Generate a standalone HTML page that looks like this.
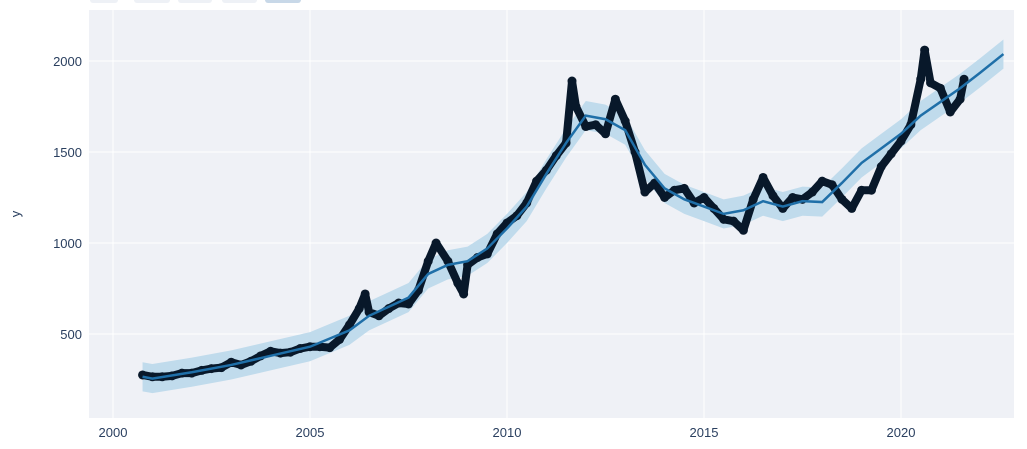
<!DOCTYPE html>
<html><head><meta charset="utf-8"><style>
body{margin:0;background:#fff;font-family:"Liberation Sans",sans-serif;}
svg text{font-family:"Liberation Sans",sans-serif;fill:#2a3f5f;font-size:13px;}
</style></head><body>
<svg id="chart" width="1027" height="444">
<g>
<rect x="90" y="-6" width="28" height="9" rx="3" fill="#eef1f6"/>
<rect x="134" y="-6" width="36" height="9" rx="3" fill="#eef1f6"/>
<rect x="178" y="-6" width="34" height="9" rx="3" fill="#eef1f6"/>
<rect x="222" y="-6" width="35" height="9" rx="3" fill="#eef1f6"/>
<rect x="265" y="-6" width="36" height="9" rx="3" fill="#c8d8e8"/>
</g>
<rect x="89" y="10" width="925" height="408" fill="#eff1f6"/>
<g id="grid"></g><g id="band"></g><g id="obs"></g><g id="trend"></g><g id="ticks"></g>
<text x="20" y="214" transform="rotate(-90 20 214)" text-anchor="middle" font-size="15">y</text>
</svg>
<script>
const obsYears=[2000.75,2001,2001.25,2001.5,2001.75,2002,2002.25,2002.5,2002.75,2003,2003.25,2003.5,2003.75,2004,2004.25,2004.5,2004.75,2005,2005.25,2005.5,2005.75,2006,2006.25,2006.4,2006.5,2006.75,2007,2007.25,2007.5,2007.75,2008,2008.2,2008.5,2008.75,2008.9,2009,2009.25,2009.5,2009.75,2010,2010.25,2010.5,2010.75,2011,2011.25,2011.5,2011.65,2011.75,2012,2012.25,2012.5,2012.75,2013,2013.25,2013.5,2013.75,2014,2014.25,2014.5,2014.75,2015,2015.25,2015.5,2015.75,2016,2016.25,2016.5,2016.75,2017,2017.25,2017.5,2017.75,2018,2018.25,2018.5,2018.75,2019,2019.25,2019.5,2019.75,2020,2020.25,2020.5,2020.6,2020.75,2021,2021.25,2021.5,2021.6];
const obsValues=[275,265,265,270,285,285,300,310,315,345,330,350,380,405,395,400,420,430,430,425,470,550,640,720,620,600,640,670,665,740,900,1000,900,780,720,880,920,940,1050,1110,1150,1220,1340,1400,1480,1550,1890,1750,1640,1650,1600,1790,1670,1500,1280,1330,1250,1290,1300,1220,1250,1190,1130,1120,1070,1240,1360,1260,1190,1250,1240,1280,1340,1320,1240,1190,1290,1290,1420,1490,1560,1650,1900,2060,1880,1850,1720,1790,1900];
const trendYears=[2000.75,2001,2002,2003,2004,2005,2006,2006.5,2007,2007.5,2008,2008.5,2009,2009.5,2010,2010.5,2011,2011.5,2012,2012.5,2013,2013.5,2014,2014.5,2015,2015.5,2016,2016.5,2017,2017.5,2018,2018.5,2019,2019.5,2020,2020.5,2021,2021.5,2022,2022.6];
const trendValues=[265,255,290,330,380,430,520,600,650,700,830,880,900,970,1080,1200,1380,1550,1700,1680,1620,1430,1300,1240,1200,1160,1180,1230,1200,1230,1225,1330,1440,1520,1600,1700,1775,1850,1934,2038];
const bandHalfWidth=[80];
const xTicks=[2000,2005,2010,2015,2020];
const yTicks=[500,1000,1500,2000];
const X=y=>113+(y-2000)*39.4, Y=v=>61+(2000-v)*0.182;
const NS="http://www.w3.org/2000/svg";
function mk(p,t,a){const e=document.createElementNS(NS,t);for(const k in a)e.setAttribute(k,a[k]);document.getElementById(p).appendChild(e);return e;}
xTicks.forEach(t=>{const l=mk('grid','line',{x1:X(t),x2:X(t),y1:10,y2:418,stroke:'#fff','stroke-width':1});


const tx=mk('ticks','text',{x:X(t),y:437,'text-anchor':'middle'});tx.textContent=t;

});
yTicks.forEach(t=>{const l=mk('grid','line',{x1:89,x2:1014,y1:Y(t),y2:Y(t),stroke:'#fff','stroke-width':1});


const tx=mk('ticks','text',{x:82,y:Y(t)+5,'text-anchor':'end'});tx.textContent=t;

});
const hw=bandHalfWidth[0];
const up=trendYears.map((y,i)=>X(y)+','+Y(trendValues[i]+hw));
const lo=trendYears.map((y,i)=>X(y)+','+Y(trendValues[i]-hw)).reverse();
const band=mk('band','polygon',{points:up.concat(lo).join(' '),fill:'#c0dbec'});


const ol=mk('obs','polyline',{points:obsYears.map((y,i)=>X(y)+','+Y(obsValues[i])).join(' '),fill:'none',stroke:'#08182a','stroke-width':8,'stroke-linejoin':'round','stroke-linecap':'round'});


obsYears.forEach((y,i)=>{const c=mk('obs','circle',{cx:X(y),cy:Y(obsValues[i]),r:4.5,fill:'#08182a'});

});
const tl=mk('trend','polyline',{points:trendYears.map((y,i)=>X(y)+','+Y(trendValues[i])).join(' '),fill:'none',stroke:'#1f6fa8','stroke-width':2.5});


</script>
</body></html>
